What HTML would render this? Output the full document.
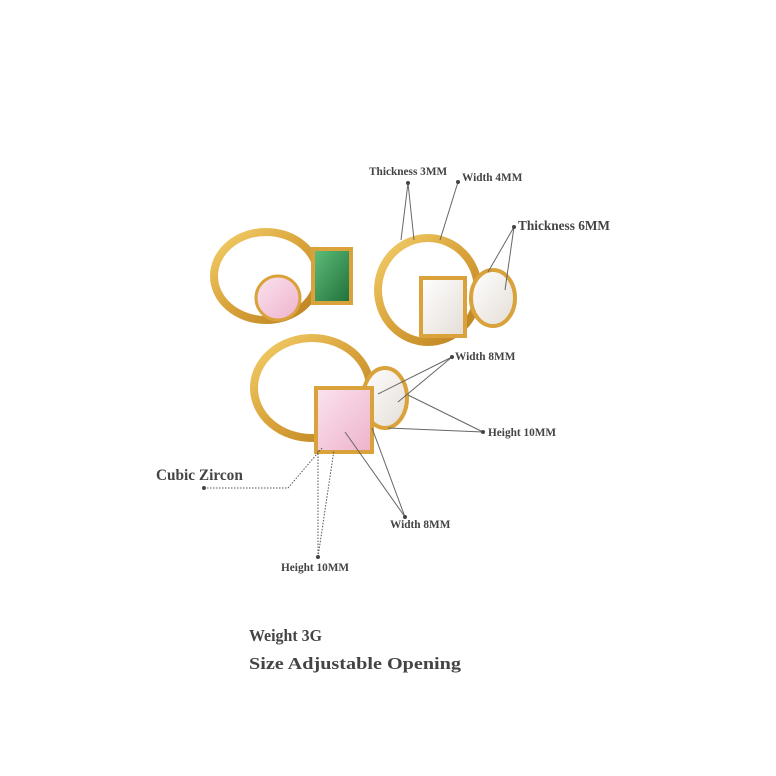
<!DOCTYPE html>
<html><head><meta charset="utf-8"><style>
html,body{margin:0;padding:0;background:#fff;width:776px;height:776px;overflow:hidden}
svg{display:block}
text{font-family:"Liberation Serif",serif;font-weight:bold;fill:#444}
</style></head><body>
<svg width="776" height="776" viewBox="0 0 776 776" xmlns="http://www.w3.org/2000/svg">
<defs>
<linearGradient id="g" x1="0" y1="0" x2="1" y2="1">
<stop offset="0" stop-color="#f3cf6a"/><stop offset="0.5" stop-color="#d9a23a"/><stop offset="1" stop-color="#b9801f"/></linearGradient>
<linearGradient id="pk" x1="0" y1="0" x2="1" y2="1"><stop offset="0" stop-color="#fbe3ef"/><stop offset="1" stop-color="#eeb2cc"/></linearGradient>
<linearGradient id="gr" x1="0" y1="0" x2="1" y2="1"><stop offset="0" stop-color="#5fbf7a"/><stop offset="1" stop-color="#1f6e3a"/></linearGradient>
<linearGradient id="wh" x1="0" y1="0" x2="1" y2="1"><stop offset="0" stop-color="#ffffff"/><stop offset="1" stop-color="#e4ddd6"/></linearGradient>
</defs>
<ellipse cx="266" cy="276" rx="52" ry="44" fill="none" stroke="url(#g)" stroke-width="8"/>
<ellipse cx="278" cy="298" rx="22" ry="22" fill="url(#pk)" stroke="#d9a23a" stroke-width="3"/>
<rect x="313" y="249" width="38" height="54" fill="url(#gr)" stroke="#d9a23a" stroke-width="4"/>
<ellipse cx="428" cy="290" rx="50" ry="52" fill="none" stroke="url(#g)" stroke-width="8"/>
<ellipse cx="493" cy="298" rx="22" ry="28" fill="url(#wh)" stroke="#d9a23a" stroke-width="4"/>
<rect x="421" y="278" width="44" height="58" fill="url(#wh)" stroke="#d9a23a" stroke-width="4"/>
<ellipse cx="312" cy="388" rx="58" ry="50" fill="none" stroke="url(#g)" stroke-width="8"/>
<ellipse cx="385" cy="398" rx="22" ry="30" fill="url(#wh)" stroke="#d9a23a" stroke-width="4"/>
<rect x="316" y="388" width="56" height="64" fill="url(#pk)" stroke="#d9a23a" stroke-width="4"/>
<g stroke="#666" stroke-width="1" fill="none">
<path d="M408 183 L401 240 M408 183 L414 240"/>
<path d="M458 182 L440 240"/>
<path d="M514 227 L488 272 M514 227 L505 290"/>
<path d="M452 357 L378 394 M452 357 L398 402"/>
<path d="M483 432 L408 395 M483 432 L388 428"/>
<path d="M405 517 L345 432 M405 517 L372 428"/>
</g>
<g stroke="#555" stroke-width="1" fill="none" stroke-dasharray="1.5 1.5">
<path d="M204 488 L288 488 L322 448"/>
<path d="M318 557 L318 450 M318 557 L334 450"/>
</g>
<g fill="#444">
<circle cx="408" cy="183" r="2"/><circle cx="458" cy="182" r="2"/><circle cx="514" cy="227" r="2"/>
<circle cx="452" cy="357" r="2"/><circle cx="483" cy="432" r="2"/><circle cx="204" cy="488" r="2"/>
<circle cx="405" cy="517" r="2"/><circle cx="318" cy="557" r="2"/>
</g>
<text x="369" y="175" font-size="11.3">Thickness 3MM</text>
<text x="462" y="181" font-size="11.3">Width 4MM</text>
<text x="518" y="230" font-size="13.3">Thickness 6MM</text>
<text x="455" y="360" font-size="11.3">Width 8MM</text>
<text x="488" y="436" font-size="11.3">Height 10MM</text>
<text x="156" y="480" font-size="15.3">Cubic Zircon</text>
<text x="390" y="528" font-size="11.3">Width 8MM</text>
<text x="281" y="571" font-size="11.3">Height 10MM</text>
<text x="249" y="641" font-size="16.5" textLength="73" lengthAdjust="spacingAndGlyphs">Weight 3G</text>
<text x="249" y="669" font-size="16.5" textLength="212" lengthAdjust="spacingAndGlyphs">Size Adjustable Opening</text>
</svg>
</body></html>
